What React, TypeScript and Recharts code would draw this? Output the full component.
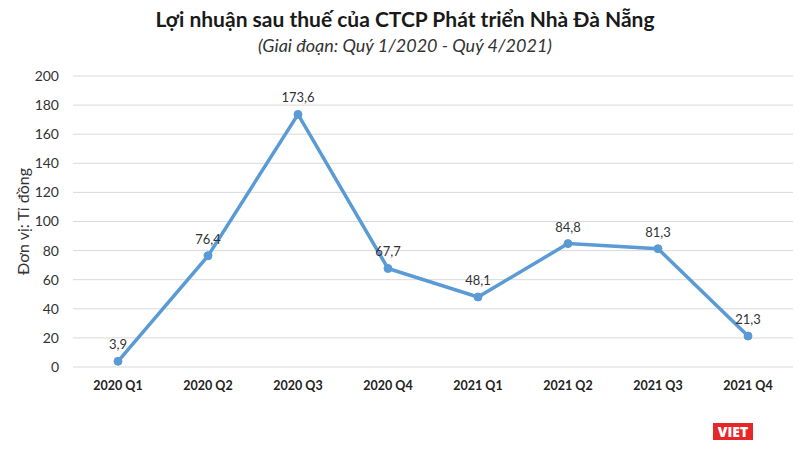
import React from "react";
import { LineChart, Line, XAxis, YAxis, CartesianGrid, LabelList, Label } from "recharts";

const categories = ["2020 Q1", "2020 Q2", "2020 Q3", "2020 Q4", "2021 Q1", "2021 Q2", "2021 Q3", "2021 Q4"];
const profit = [3.9, 76.4, 173.6, 67.7, 48.1, 84.8, 81.3, 21.3];
const yTicks = [0, 20, 40, 60, 80, 100, 120, 140, 160, 180, 200];

const data = categories.map((c, i) => ({ q: c, v: profit[i] }));
const font = "Lato, 'Open Sans', sans-serif";

export default function App() {
  return (
    <div style={{ position: "absolute", left: 0, top: 0, width: 810, height: 454, background: "#fff", fontFamily: font }}>
      <div style={{ position: "absolute", top: 6, width: 810, textAlign: "center", fontSize: 21, fontWeight: 700, color: "#1a1a1a" }}>
        Lợi nhuận sau thuế của CTCP Phát triển Nhà Đà Nẵng
      </div>
      <div style={{ position: "absolute", top: 34, width: 810, textAlign: "center", fontSize: 18, fontStyle: "italic", color: "#333" }}>
        (Giai đoạn: Quý 1/2020 - Quý 4/2021)
      </div>
      <LineChart width={810} height={454} data={data} margin={{ top: 76, right: 17, left: 0, bottom: 57 }}>
        <CartesianGrid vertical={false} stroke="#d9d9d9" />
        <XAxis dataKey="q" axisLine={false} tickLine={false} interval={0} height={30} padding={{ left: 45, right: 45 }}
          tick={{ fontSize: 12.5, fontWeight: 700, fill: "#222", fontFamily: font }} tickMargin={8} />
        <YAxis domain={[0, 200]} ticks={yTicks} axisLine={false} tickLine={false} width={73}
          tick={{ fontSize: 14, fill: "#333", fontFamily: font }} tickMargin={8}>
          <Label value="Đơn vị: Tỉ đồng" angle={-90} position="insideLeft" offset={23}
            style={{ textAnchor: "middle", fontSize: 16, fill: "#333", fontFamily: font }} />
        </YAxis>
        <Line type="linear" dataKey="v" stroke="#5B9BD5" strokeWidth={3.5} isAnimationActive={false}
          dot={{ r: 4, fill: "#5B9BD5", stroke: "#5B9BD5", strokeWidth: 1 }}>
          <LabelList dataKey="v" position="top" offset={12}
            formatter={(v: number) => String(v).replace(".", ",")}
            style={{ fontSize: 13, fill: "#333", fontFamily: font }} />
        </Line>
      </LineChart>
      <div style={{ position: "absolute", left: 713, top: 423, width: 40, height: 17, background: "#e8262a", color: "#fff",
        fontWeight: 800, fontSize: 14, lineHeight: "17px", textAlign: "center", fontFamily: "'Open Sans', sans-serif" }}>
        VIET
      </div>
    </div>
  );
}
